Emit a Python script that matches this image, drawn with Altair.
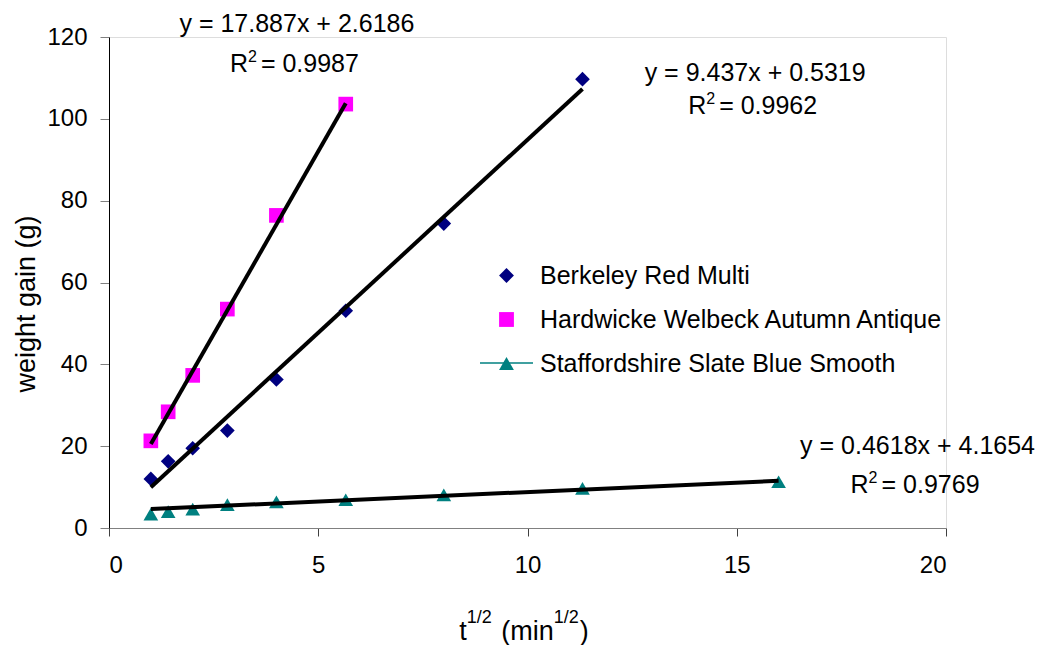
import altair as alt
import pandas as pd

FONT = "Liberation Sans"

# ---------------- data ----------------
x_vals = [1.0, 1.414, 2.0, 2.828, 4.0, 5.657, 8.0, 11.314, 16.0]
series_names = ["Berkeley Red Multi", "Hardwicke Welbeck Autumn Antique",
                "Staffordshire Slate Blue Smooth"]
berkeley = [12.0, 16.3, 19.5, 23.8, 36.3, 53.1, 74.4, 109.7]
hardwicke = [21.3, 28.4, 37.3, 53.5, 76.4, 103.6]
stafford = [3.4, 4.0, 4.6, 5.7, 6.4, 6.9, 8.1, 9.7, 11.3]
series_values = [berkeley, hardwicke, stafford]
colors = ["#000080", "#FF00FF", "#008080"]
shapes = ["diamond", "square", "triangle-up"]

slopes = [9.437, 17.887, 0.4618]
intercepts = [0.5319, 2.6186, 4.1654]
r2_values = [0.9962, 0.9987, 0.9769]

x_ticks = [0, 5, 10, 15, 20]
y_ticks = [0, 20, 40, 60, 80, 100, 120]

# annotation anchor points (data coordinates)
eq_x = [15.44, 4.49, 19.32]
eq_y = [109.2, 121.2, 18.1]
r2_y = [101.2, 111.4, 8.55]

# ---------------- tables ----------------
rows = []
for name, vals in zip(series_names, series_values):
    for xv, yv in zip(x_vals, vals):
        rows.append({"series": name, "x": xv, "y": yv})
pts = pd.DataFrame(rows)

trend_rows = []
for name, vals, s, b in zip(series_names, series_values, slopes, intercepts):
    xs = x_vals[:len(vals)]
    for xv in (min(xs), max(xs)):
        trend_rows.append({"series": name, "x": xv, "y": s * xv + b})
trend = pd.DataFrame(trend_rows)

eq_rows, r_rows, two_rows, val_rows = [], [], [], []
for s, b, r2, ex, ey, ry in zip(slopes, intercepts, r2_values, eq_x, eq_y, r2_y):
    eq_rows.append({"x": ex, "y": ey, "label": f"y = {s}x + {b}"})
    r_rows.append({"x": ex, "y": ry, "label": "R"})
    two_rows.append({"x": ex, "y": ry, "label": "2"})
    val_rows.append({"x": ex, "y": ry, "label": f"= {r2}"})

# ---------------- encodings ----------------
X = alt.X("x:Q", scale=alt.Scale(domain=[0, 20], nice=False, zero=True),
          axis=alt.Axis(values=x_ticks, title=None, grid=False,
                        domainColor="#808080", tickColor="#404040",
                        tickSize=8, labelPadding=17, labelFontSize=24,
                        labelFont=FONT, labelColor="black"))
Y = alt.Y("y:Q", scale=alt.Scale(domain=[0, 120], nice=False),
          axis=alt.Axis(values=y_ticks, title=None, grid=False,
                        domainColor="black", tickColor="#808080",
                        tickSize=9, labelPadding=13, labelFontSize=24,
                        labelFont=FONT, labelColor="black"))

legend = alt.Legend(title=None, orient="none", legendX=385, legendY=226,
                    labelFontSize=25, labelFont=FONT, labelColor="black",
                    labelLimit=0, symbolSize=220, rowPadding=18, labelOffset=21,
                    padding=0, symbolStrokeWidth=0, symbolOpacity=1)

points = alt.Chart(pts).mark_point(filled=True, size=215, opacity=1, strokeWidth=0).encode(
    x=X, y=Y,
    color=alt.Color("series:N", scale=alt.Scale(domain=series_names, range=colors), legend=legend),
    shape=alt.Shape("series:N", scale=alt.Scale(domain=series_names, range=shapes), legend=legend),
)

lines = alt.Chart(trend).mark_line(color="black", strokeWidth=4).encode(
    x=X, y=Y, detail="series:N"
)


def ann_layer(df, fs, align, dx, dy=0):
    return alt.Chart(pd.DataFrame(df)).mark_text(
        font=FONT, fontSize=fs, color="black", align=align,
        baseline="alphabetic", dx=dx, dy=dy
    ).encode(x=X, y=Y, text="label:N")


eq_text = ann_layer(eq_rows, 25, "center", 0)
r_text = ann_layer(r_rows, 25, "left", -67)
two_text = ann_layer(two_rows, 16, "left", -49, -10)
val_text = ann_layer(val_rows, 25, "left", -36)

legend_line = alt.Chart(pd.DataFrame({"a": [0]})).mark_rule(
    color="#008080", strokeWidth=1.3).encode(
    x=alt.value(371), x2=alt.value(424), y=alt.value(326)
)

# axis titles
ytitle = alt.Chart(pd.DataFrame({"t": ["weight gain (g)"]})).mark_text(
    font=FONT, fontSize=27, angle=270, color="black", align="center", baseline="middle"
).encode(x=alt.value(-82), y=alt.value(267), text="t:N")

xt_main = 27
xt_sup = 18
pieces = [
    ("t", xt_main, 0),
    ("1/2", xt_sup, 1),
    ("(min", xt_main, 0),
    ("1/2", xt_sup, 1),
    (")", xt_main, 0),
]
widths = [0.278 * xt_main, 1.39 * xt_sup + 2, (0.278 + 0.333 + 1.611) * xt_main,
          1.39 * xt_sup + 1, 0.333 * xt_main]
total = sum(widths)
start = 415 - total / 2
x_title_layers = []
cur = start
for (txt, fs, sup), w in zip(pieces, widths):
    offset = 0.278 * xt_main if txt == "(min" else 0
    x_title_layers.append(
        alt.Chart(pd.DataFrame({"t": [txt]})).mark_text(
            font=FONT, fontSize=fs, color="black", align="left", baseline="alphabetic"
        ).encode(x=alt.value(cur + offset), y=alt.value(586 if sup else 603), text="t:N")
    )
    cur += w

chart = alt.layer(points, lines, eq_text, r_text, two_text, val_text, legend_line,
                  ytitle, *x_title_layers).properties(
    width=837, height=491,
    autosize=alt.AutoSizeParams(type="none"),
    padding={"left": 101, "top": 29, "right": 94, "bottom": 117},
).configure_view(stroke=None).configure(background="white")

chart.save("out.html", embed_options={"renderer": "svg", "actions": False})
